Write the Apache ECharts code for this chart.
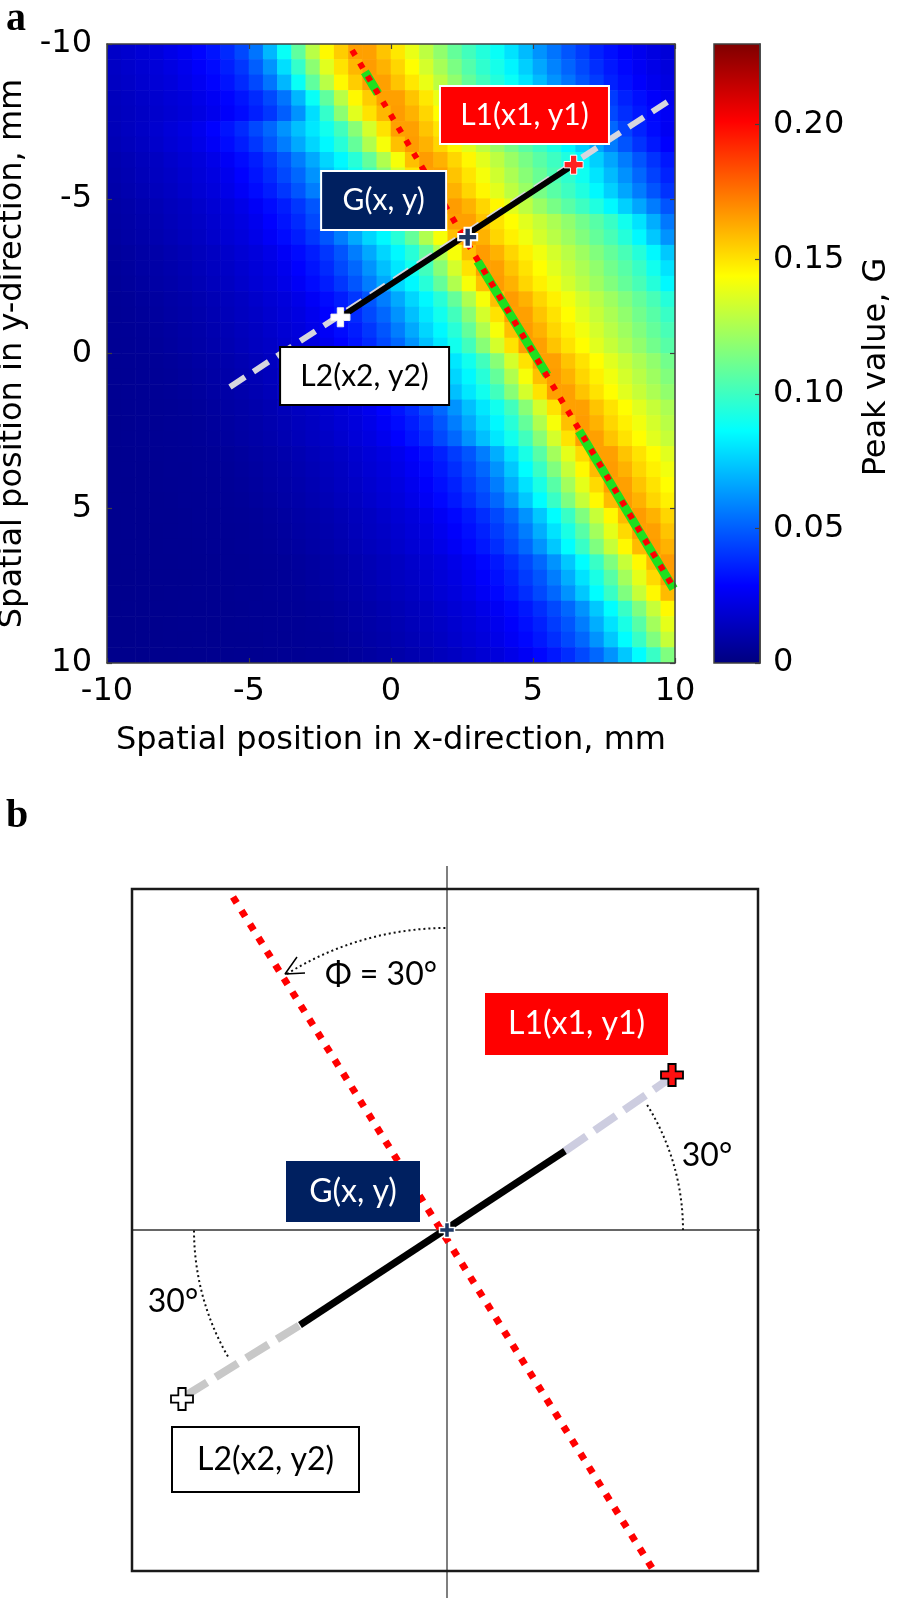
<!DOCTYPE html>
<html>
<head>
<meta charset="utf-8">
<title>Peak value map</title>
<script src="https://cdn.jsdelivr.net/npm/echarts@6.0.0/dist/echarts.min.js"></script>
<style>
  html, body { margin: 0; padding: 0; background: #fff; }
  #chart { width: 898px; height: 1602px; }
</style>
</head>
<body>
<div id="chart"></div>
<script>
// ---- panel a: peak value G, 0.5 mm cells (centres), rows top (y=-9.75) to bottom ----
const xCenters = [-9.75,-9.25,-8.75,-8.25,-7.75,-7.25,-6.75,-6.25,-5.75,-5.25,-4.75,-4.25,-3.75,-3.25,-2.75,-2.25,-1.75,-1.25,-0.75,-0.25,
                  0.25,0.75,1.25,1.75,2.25,2.75,3.25,3.75,4.25,4.75,5.25,5.75,6.25,6.75,7.25,7.75,8.25,8.75,9.25,9.75];
const yCenters = [-9.75,-9.25,-8.75,-8.25,-7.75,-7.25,-6.75,-6.25,-5.75,-5.25,-4.75,-4.25,-3.75,-3.25,-2.75,-2.25,-1.75,-1.25,-0.75,-0.25,
                  0.25,0.75,1.25,1.75,2.25,2.75,3.25,3.75,4.25,4.75,5.25,5.75,6.25,6.75,7.25,7.75,8.25,8.75,9.25,9.75];
const peakRows = [
  [.0165,.018,.0195,.021,.0235,.026,.0295,.033,.038,.045,.055,.07,.088,.108,.128,.145,.155,.165,.165,.157,.149,.139,.129,.119,.109,.101,.094,.088,.08,.071,.062,.055,.048,.042,.036,.032,.028,.025,.022,.02],
  [.0157,.0172,.0187,.0202,.0222,.0248,.0278,.031,.0355,.041,.05,.062,.079,.098,.118,.137,.15,.16,.166,.161,.153,.144,.134,.124,.114,.105,.097,.091,.084,.0755,.0665,.0585,.0515,.045,.039,.034,.03,.0265,.0235,.021],
  [.015,.0165,.018,.0195,.021,.0235,.026,.0295,.033,.038,.045,.055,.07,.088,.108,.128,.145,.155,.165,.165,.157,.149,.139,.129,.119,.109,.101,.094,.088,.08,.071,.062,.055,.048,.042,.036,.032,.028,.025,.022],
  [.014,.015,.0165,.018,.0195,.021,.0235,.026,.0295,.033,.038,.045,.055,.07,.088,.108,.128,.145,.155,.165,.165,.157,.149,.139,.129,.119,.109,.101,.094,.088,.08,.071,.062,.055,.048,.042,.036,.032,.028,.025],
  [.0135,.0145,.0157,.0172,.0187,.0202,.0222,.0248,.0278,.031,.0355,.041,.05,.062,.079,.098,.118,.137,.15,.16,.166,.161,.153,.144,.134,.124,.114,.105,.097,.091,.084,.0755,.0665,.0585,.0515,.045,.039,.034,.03,.0265],
  [.013,.0145,.016,.018,.02,.022,.025,.029,.033,.038,.045,.052,.062,.072,.081,.09,.101,.117,.134,.15,.165,.165,.157,.1495,.1415,.133,.125,.117,.11,.103,.097,.0895,.0805,.071,.0615,.052,.0435,.0365,.031,.026],
  [.0122,.0137,.015,.017,.019,.021,.0235,.027,.031,.035,.041,.048,.057,.067,.077,.085,.095,.109,.126,.142,.158,.166,.161,.153,.1455,.1373,.129,.121,.1135,.1063,.10,.0933,.085,.0758,.0663,.0568,.0478,.04,.0338,.0285],
  [.0107,.0122,.0137,.015,.017,.019,.021,.0235,.027,.031,.035,.041,.048,.057,.067,.077,.085,.095,.109,.126,.142,.158,.166,.161,.153,.1455,.1373,.129,.121,.1135,.1063,.10,.0933,.085,.0758,.0663,.0568,.0478,.04,.0338],
  [.01,.0115,.013,.0145,.016,.018,.02,.022,.025,.029,.033,.038,.045,.052,.062,.072,.081,.09,.101,.117,.134,.15,.165,.165,.157,.1495,.1415,.133,.125,.117,.11,.103,.097,.0895,.0805,.071,.0615,.052,.0435,.0365],
  [.0095,.0107,.0122,.0137,.015,.017,.019,.021,.0235,.027,.031,.035,.041,.048,.057,.067,.077,.085,.095,.109,.126,.142,.158,.166,.161,.153,.1455,.1373,.129,.121,.1135,.1063,.10,.0933,.085,.0758,.0663,.0568,.0478,.04],
  [.0085,.0095,.0107,.0122,.0137,.015,.017,.019,.021,.0235,.027,.031,.035,.041,.048,.057,.067,.077,.085,.095,.109,.126,.142,.158,.166,.161,.153,.1455,.1373,.129,.121,.1135,.1063,.10,.0933,.085,.0758,.0663,.0568,.0478],
  [.008,.009,.01,.0115,.013,.0145,.016,.018,.02,.022,.025,.029,.033,.038,.045,.052,.062,.072,.081,.09,.101,.117,.134,.15,.165,.165,.157,.15,.144,.137,.131,.125,.119,.112,.106,.099,.09,.08,.068,.056],
  [.0075,.0085,.0095,.0107,.0122,.0137,.015,.017,.019,.021,.0235,.027,.031,.035,.041,.048,.057,.067,.077,.085,.095,.109,.126,.142,.158,.166,.161,.153,.147,.1405,.134,.128,.122,.1155,.109,.1025,.0945,.085,.074,.062],
  [.0065,.0075,.0085,.0095,.0107,.0122,.0137,.015,.017,.019,.021,.0235,.027,.031,.035,.041,.048,.057,.067,.077,.085,.095,.109,.126,.142,.158,.166,.161,.153,.147,.1405,.134,.128,.122,.1155,.109,.1025,.0945,.085,.074],
  [.006,.007,.008,.009,.01,.0115,.013,.0145,.016,.018,.02,.022,.025,.029,.033,.038,.045,.052,.062,.072,.081,.09,.101,.117,.134,.15,.165,.165,.157,.15,.144,.137,.131,.125,.119,.112,.106,.099,.09,.08],
  [.0057,.0065,.0075,.0085,.0095,.0107,.0122,.0137,.015,.017,.019,.021,.0235,.027,.031,.035,.041,.048,.057,.067,.077,.085,.095,.109,.126,.142,.158,.166,.161,.153,.147,.1405,.134,.128,.122,.1155,.109,.1025,.0945,.085],
  [.0052,.0057,.0065,.0075,.0085,.0095,.0107,.0122,.0137,.015,.017,.019,.021,.0235,.027,.031,.035,.041,.048,.057,.067,.077,.085,.095,.109,.126,.142,.158,.166,.161,.153,.147,.1405,.134,.128,.122,.1155,.109,.1025,.0945],
  [.005,.0055,.006,.007,.008,.009,.01,.0115,.013,.0145,.016,.018,.02,.022,.025,.029,.033,.038,.045,.052,.062,.072,.081,.09,.101,.117,.134,.15,.165,.165,.157,.15,.144,.137,.131,.125,.119,.112,.106,.099],
  [.0049,.0052,.0057,.0065,.0075,.0085,.0095,.0107,.0122,.0137,.015,.017,.019,.021,.0235,.027,.031,.035,.041,.048,.057,.067,.077,.085,.095,.109,.126,.142,.158,.166,.161,.153,.147,.1405,.134,.128,.122,.1155,.109,.1025],
  [.0047,.005,.0055,.006,.007,.008,.009,.01,.0115,.013,.0145,.016,.018,.02,.022,.025,.029,.033,.038,.045,.052,.062,.072,.081,.09,.101,.117,.134,.15,.165,.165,.157,.15,.144,.137,.131,.125,.119,.112,.106],
  [.0045,.0047,.005,.0055,.006,.007,.008,.009,.01,.0115,.013,.0145,.016,.018,.02,.022,.025,.029,.033,.038,.045,.052,.062,.072,.081,.09,.101,.117,.134,.15,.165,.165,.157,.15,.144,.137,.131,.125,.119,.112],
  [.0044,.0046,.0049,.0052,.0057,.0065,.0075,.0085,.0095,.0107,.0122,.0137,.015,.017,.019,.021,.0235,.027,.031,.035,.041,.048,.057,.067,.077,.085,.095,.109,.126,.142,.158,.166,.161,.153,.147,.1405,.134,.128,.122,.1155],
  [.0042,.0045,.0047,.005,.0055,.006,.007,.008,.009,.01,.0115,.013,.0145,.016,.018,.02,.022,.025,.029,.033,.038,.045,.052,.062,.072,.081,.09,.101,.117,.134,.15,.165,.165,.157,.15,.144,.137,.131,.125,.119],
  [.004,.0042,.0045,.0047,.005,.0055,.006,.007,.008,.009,.01,.0115,.013,.0145,.016,.018,.02,.022,.025,.029,.033,.038,.045,.052,.062,.072,.081,.09,.101,.117,.134,.15,.165,.165,.157,.15,.144,.137,.131,.125],
  [.0039,.0041,.0044,.0046,.0049,.0052,.0057,.0065,.0075,.0085,.0095,.0107,.0122,.0137,.015,.017,.019,.021,.0235,.027,.031,.035,.041,.048,.057,.067,.077,.085,.095,.109,.126,.142,.158,.166,.161,.153,.147,.1405,.134,.128],
  [.0038,.004,.0042,.0045,.0047,.005,.0055,.006,.007,.008,.009,.01,.0115,.013,.0145,.016,.018,.02,.022,.025,.029,.033,.038,.045,.052,.062,.072,.081,.09,.101,.117,.134,.15,.165,.165,.157,.15,.144,.137,.131],
  [.0037,.0038,.004,.0042,.0045,.0047,.005,.0055,.006,.007,.008,.009,.01,.0115,.013,.0145,.016,.018,.02,.022,.025,.028,.032,.036,.042,.048,.057,.068,.08,.092,.106,.123,.138,.152,.165,.165,.157,.15,.144,.137],
  [.0036,.0038,.0039,.0041,.0044,.0046,.0049,.0052,.0057,.0065,.0075,.0085,.0095,.0107,.0122,.0137,.015,.017,.019,.021,.0235,.0265,.03,.034,.039,.045,.052,.062,.074,.086,.099,.115,.131,.145,.159,.166,.161,.153,.147,.1405],
  [.0036,.0037,.0038,.004,.0042,.0045,.0047,.005,.0055,.006,.007,.008,.009,.01,.0115,.013,.0145,.016,.018,.02,.022,.025,.028,.032,.036,.042,.048,.057,.068,.08,.092,.106,.123,.138,.152,.165,.165,.157,.15,.144],
  [.0035,.0036,.0038,.0039,.0041,.0044,.0046,.0049,.0052,.0057,.0065,.0075,.0085,.0095,.0107,.0122,.0137,.015,.017,.019,.021,.0235,.0265,.03,.034,.039,.045,.052,.062,.074,.086,.099,.115,.131,.145,.159,.166,.161,.153,.147],
  [.0034,.0035,.0036,.0038,.0039,.0041,.0044,.0046,.0049,.0052,.0057,.0065,.0075,.0085,.0095,.0107,.0122,.0137,.015,.017,.019,.021,.0235,.0265,.03,.034,.039,.045,.052,.062,.074,.086,.099,.115,.131,.145,.159,.166,.161,.153],
  [.0034,.0035,.0036,.0037,.0038,.004,.0042,.0045,.0047,.005,.0055,.006,.007,.008,.009,.01,.0115,.013,.0145,.016,.018,.02,.022,.025,.028,.032,.036,.042,.048,.057,.068,.08,.092,.106,.123,.138,.152,.165,.165,.157],
  [.0033,.0034,.0035,.0036,.0038,.0039,.0041,.0044,.0046,.0049,.0052,.0057,.0065,.0075,.0085,.0095,.0107,.0122,.0137,.015,.017,.019,.021,.0235,.0265,.03,.034,.039,.045,.052,.062,.074,.086,.099,.115,.131,.145,.159,.166,.161],
  [.0032,.0033,.0034,.0035,.0036,.0038,.0039,.0041,.0044,.0046,.0049,.0052,.0057,.0065,.0075,.0085,.0095,.0107,.0122,.0137,.015,.017,.019,.021,.0235,.0265,.03,.034,.039,.045,.052,.062,.074,.086,.099,.115,.131,.145,.159,.166],
  [.0031,.0032,.0034,.0035,.0036,.0037,.0038,.004,.0042,.0045,.0047,.005,.0055,.006,.007,.008,.009,.01,.0115,.013,.0145,.016,.018,.02,.022,.025,.028,.032,.036,.042,.048,.057,.068,.08,.092,.106,.123,.138,.152,.165],
  [.0031,.0032,.0033,.0034,.0035,.0036,.0038,.0039,.0041,.0044,.0046,.0049,.0052,.0057,.0065,.0075,.0085,.0095,.0107,.0122,.0137,.015,.017,.019,.021,.0235,.0265,.03,.034,.039,.045,.052,.062,.074,.086,.099,.115,.131,.145,.159],
  [.003,.0031,.0032,.0033,.0034,.0035,.0036,.0038,.0039,.0041,.0044,.0046,.0049,.0052,.0057,.0065,.0075,.0085,.0095,.0107,.0122,.0137,.015,.017,.019,.021,.0235,.0265,.03,.034,.039,.045,.052,.062,.074,.086,.099,.115,.131,.145],
  [.003,.003,.0031,.0032,.0034,.0035,.0036,.0037,.0038,.004,.0042,.0045,.0047,.005,.0055,.006,.007,.008,.009,.01,.0115,.013,.0145,.016,.018,.02,.022,.025,.028,.032,.036,.042,.048,.057,.068,.08,.092,.106,.123,.138],
  [.003,.003,.0031,.0032,.0033,.0034,.0035,.0036,.0038,.0039,.0041,.0044,.0046,.0049,.0052,.0057,.0065,.0075,.0085,.0095,.0107,.0122,.0137,.015,.017,.019,.021,.0235,.0265,.03,.034,.039,.045,.052,.062,.074,.086,.099,.115,.131],
  [.003,.003,.003,.0031,.0032,.0033,.0034,.0035,.0036,.0038,.0039,.0041,.0044,.0046,.0049,.0052,.0057,.0065,.0075,.0085,.0095,.0107,.0122,.0137,.015,.017,.019,.021,.0235,.0265,.03,.034,.039,.045,.052,.062,.074,.086,.099,.115]
];
const cellHalf = 0.25;
const cbMax = 0.23;

// overlay lines / points, in mm
const ridgeLine = [[-1.37, -9.8], [10, 7.64]];
const greenSegs = [[[-0.92, -9.1], [-0.46, -8.4]], [[3.05, -2.98], [5.5, 0.7]], [[6.62, 2.5], [9.95, 7.6]]];
const chordLine = [[-5.67, 1.08], [10, -8.29]];
const l2l1Line = [[-1.78, -1.17], [6.43, -6.1]];
const ptL1 = [6.43, -6.1], ptG = [2.7, -3.76], ptL2 = [-1.78, -1.17];
const tagPosA = [[4.70, -7.71], [-0.26, -4.94], [-0.93, 0.73]];

// ---- panel b: schematic, units = px relative to G, y up ----
const bRedLine = [[-214, 333], [205, -338]];
const bBlack = [[-147, -95], [118, 79]];
const bGrayLow = [[-262, -166], [-147, -95]];
const bGrayUp = [[118, 79], [222, 151]];
const bAxisV = [[0, 364], [0, -368]];
const bAxisH = [[-341, 0], [341, 0]];
const bArcs = [[302, -122, -90], [236, -32, 0], [253, 150, 180]]; // radius, start, end (deg)
const bArrow = [[-150, 273], [-162, 256], [-142, 257]];
const bL1 = [225, 155], bL2 = [-265, -169], bG = [0, 0];
const tagPosB = [[129.5, 206], [-94, 38.5], [-181.5, -229.5]];
const anglePosB = [[-66, 255], [260, 74], [-274, -72]];

const jet = ['#00007f', '#0000ff', '#007fff', '#00ffff', '#7fff7f', '#ffff00', '#ff7f00', '#ff0000', '#7f0000'];
const plusPath = 'path://M6 0H12V6H18V12H12V18H6V12H0V6H6Z';
const axisCol = '#404040';
const txtFont = 'DejaVu Sans';

const cells = [];
peakRows.forEach((row, j) => row.forEach((v, i) => cells.push([xCenters[i], yCenters[j], v])));

function tag(pos, text, w, h, bg, border, fg, fs) {
  return {
    value: pos,
    label: {
      show: true, position: 'inside', formatter: text, opacity: 1,
      width: w, height: h, lineHeight: h, align: 'center', verticalAlign: 'middle',
      backgroundColor: bg, borderColor: border || 'transparent', borderWidth: border ? 2 : 0,
      color: fg, fontSize: fs, fontFamily: 'Lato', padding: 0
    }
  };
}

function seg(data, xi, color, width, type, z, extra) {
  return Object.assign({
    type: 'line', xAxisIndex: xi, yAxisIndex: xi === 0 ? 0 : 3, data: data,
    symbol: 'none', silent: true, animation: false, z: z,
    lineStyle: { color: color, width: width, type: type || 'solid', cap: 'butt', opacity: 1 }
  }, extra || {});
}

const frameAxis = {
  axisLine: { show: true, onZero: false, lineStyle: { color: axisCol, width: 1.5 } },
  axisTick: { show: true, inside: true, length: 5, lineStyle: { color: axisCol, width: 1.2 } },
  splitLine: { show: false },
  z: 10
};

const chart = echarts.init(document.getElementById('chart'));
const option = {
  backgroundColor: '#fff',
  animation: false,
  grid: [
    { left: 107, top: 44, width: 568, height: 619, containLabel: false, outerBoundsMode: 'none' },
    { left: 714, top: 44, width: 46, height: 619, containLabel: false, outerBoundsMode: 'none',
      show: true, borderColor: axisCol, borderWidth: 1.5, z: 5 },
    { left: 132, top: 889, width: 626, height: 682, containLabel: false, outerBoundsMode: 'none',
      show: true, borderColor: '#1a1a1a', borderWidth: 2.5, z: 5 }
  ],
  visualMap: {
    type: 'continuous', show: false, min: 0, max: cbMax, dimension: 2, seriesIndex: 0,
    inRange: { color: jet }
  },
  xAxis: [
    Object.assign({}, frameAxis, {
      gridIndex: 0, type: 'value', min: -10, max: 10, interval: 5, position: 'bottom',
      axisLabel: { color: '#000', fontSize: 32, fontFamily: txtFont, margin: 13 },
      name: 'Spatial position in x-direction, mm', nameLocation: 'middle', nameGap: 62,
      nameTextStyle: { color: '#000', fontSize: 32, fontFamily: txtFont }
    }),
    Object.assign({}, frameAxis, {
      gridIndex: 0, type: 'value', min: -10, max: 10, interval: 5, position: 'top',
      axisLabel: { show: false }
    }),
    { gridIndex: 1, type: 'category', data: ['G'], show: false },
    { gridIndex: 2, type: 'value', min: -315, max: 311, show: false }
  ],
  yAxis: [
    Object.assign({}, frameAxis, {
      gridIndex: 0, type: 'value', inverse: true, min: -10, max: 10, interval: 5, position: 'left',
      axisLabel: { color: '#000', fontSize: 32, fontFamily: txtFont, margin: 15 },
      name: 'Spatial position in y-direction, mm', nameLocation: 'middle', nameGap: 66, nameRotate: 90,
      nameTextStyle: { color: '#000', fontSize: 32, fontFamily: txtFont }
    }),
    Object.assign({}, frameAxis, {
      gridIndex: 0, type: 'value', inverse: true, min: -10, max: 10, interval: 5, position: 'right',
      axisLabel: { show: false }
    }),
    Object.assign({}, frameAxis, {
      gridIndex: 1, type: 'value', min: 0, max: cbMax, interval: 0.05, position: 'right',
      axisLabel: {
        color: '#000', fontSize: 32, fontFamily: txtFont, margin: 13, showMaxLabel: false,
        formatter: v => (v === 0 ? '0' : v.toFixed(2))
      }
    }),
    { gridIndex: 2, type: 'value', min: -341, max: 341, show: false }
  ],
  graphic: [
    { type: 'text', left: 6, top: 0, style: { text: 'a', font: 'bold 40px "Liberation Serif"', fill: '#000' } },
    { type: 'text', left: 6, top: 797, style: { text: 'b', font: 'bold 40px "Liberation Serif"', fill: '#000' } },
    { type: 'text', x: 877, y: 367, rotation: Math.PI / 2,
      style: { text: 'Peak value, G', font: '32px "DejaVu Sans"', fill: '#000', align: 'center', verticalAlign: 'middle' } }
  ],
  series: [
    // 0: the heat map
    {
      type: 'custom', xAxisIndex: 0, yAxisIndex: 0, data: cells, encode: { x: 0, y: 1 },
      clip: true, silent: true, z: 1,
      renderItem: function (params, api) {
        const p0 = api.coord([api.value(0) - cellHalf, api.value(1) - cellHalf]);
        const p1 = api.coord([api.value(0) + cellHalf, api.value(1) + cellHalf]);
        return {
          type: 'rect',
          shape: {
            x: Math.min(p0[0], p1[0]) - 0.3, y: Math.min(p0[1], p1[1]) - 0.3,
            width: Math.abs(p1[0] - p0[0]) + 0.6, height: Math.abs(p1[1] - p0[1]) + 0.6
          },
          style: { fill: api.visual('color') }
        };
      }
    },
    // colour bar
    {
      type: 'bar', xAxisIndex: 2, yAxisIndex: 2, data: [cbMax], barWidth: '100%', silent: true, z: 1,
      itemStyle: {
        opacity: 1,
        color: { type: 'linear', x: 0, y: 1, x2: 0, y2: 0,
          colorStops: jet.map((c, i) => ({ offset: i / (jet.length - 1), color: c })) }
      }
    },
    // panel a overlays
    {
      type: 'lines', coordinateSystem: 'cartesian2d', xAxisIndex: 0, yAxisIndex: 0, silent: true, z: 3,
      data: greenSegs.map(s => ({ coords: s })),
      lineStyle: { color: '#1ee01e', width: 9, opacity: 1, curveness: 0 }
    },
    seg(ridgeLine, 0, '#ff0000', 6, [6, 9], 4),
    seg(chordLine, 0, '#d6d6de', 6, [18, 10], 5),
    seg(l2l1Line, 0, '#000000', 6, 'solid', 6),
    {
      type: 'scatter', xAxisIndex: 0, yAxisIndex: 0, symbol: plusPath, symbolSize: 19, silent: true, z: 7,
      data: [
        { value: ptL1, itemStyle: { color: '#ff2020', borderColor: '#ffffff', borderWidth: 1, opacity: 1 } },
        { value: ptG, itemStyle: { color: '#1f3864', borderColor: '#ffffff', borderWidth: 2, opacity: 1 } },
        { value: ptL2, itemStyle: { color: '#ffffff', borderColor: '#eeeeee', borderWidth: 1, opacity: 1 } }
      ]
    },
    {
      type: 'scatter', xAxisIndex: 0, yAxisIndex: 0, symbol: 'rect', symbolSize: 1, silent: true, z: 8,
      itemStyle: { color: 'transparent', opacity: 1 },
      data: [
        tag(tagPosA[0], 'L1(x1, y1)', 167, 56, '#ff0000', '#ffffff', '#ffffff', 30),
        tag(tagPosA[1], 'G(x, y)', 123, 57, '#002060', '#ffffff', '#ffffff', 30),
        tag(tagPosA[2], 'L2(x2, y2)', 167, 56, '#ffffff', '#000000', '#000000', 30)
      ]
    },
    // panel b
    seg(bAxisV, 3, '#555555', 1.5, 'solid', 2, { clip: false }),
    seg(bAxisH, 3, '#333333', 1.5, 'solid', 2, { clip: false }),
    seg(bRedLine, 3, '#ff0000', 7, [7, 9], 3),
    seg(bGrayLow, 3, '#c8c8c8', 8, [26, 10], 4),
    seg(bGrayUp, 3, '#cdcde0', 8, [26, 10], 4),
    seg(bBlack, 3, '#000000', 7, 'solid', 5),
    seg(bArrow, 3, '#000000', 1.5, 'solid', 5),
    {
      type: 'custom', xAxisIndex: 3, yAxisIndex: 3, silent: true, z: 5, clip: false,
      data: bArcs.map(a => [0, 0, a[0], a[1], a[2]]), encode: { x: 0, y: 1 },
      renderItem: function (params, api) {
        const c = api.coord([api.value(0), api.value(1)]);
        const r = api.size([api.value(2), 0])[0];
        return {
          type: 'arc',
          shape: { cx: c[0], cy: c[1], r: r,
            startAngle: api.value(3) * Math.PI / 180, endAngle: api.value(4) * Math.PI / 180, clockwise: true },
          style: { stroke: '#111', fill: 'none', lineWidth: 2, lineDash: [2, 3] }
        };
      }
    },
    {
      type: 'scatter', xAxisIndex: 3, yAxisIndex: 3, symbol: plusPath, silent: true, z: 7,
      data: [
        { value: bL1, symbolSize: 22, itemStyle: { color: '#ff1010', borderColor: '#000', borderWidth: 1.8, opacity: 1 } },
        { value: bL2, symbolSize: 22, itemStyle: { color: '#ffffff', borderColor: '#000', borderWidth: 1.8, opacity: 1 } },
        { value: bG, symbolSize: 15, itemStyle: { color: '#1f3864', borderColor: '#ffffff', borderWidth: 1.5, opacity: 1 } }
      ]
    },
    {
      type: 'scatter', xAxisIndex: 3, yAxisIndex: 3, symbol: 'rect', symbolSize: 1, silent: true, z: 8,
      itemStyle: { color: 'transparent', opacity: 1 },
      data: [
        tag(tagPosB[0], 'L1(x1, y1)', 183, 62, '#ff0000', null, '#ffffff', 32),
        tag(tagPosB[1], 'G(x, y)', 134, 61, '#002060', null, '#ffffff', 32),
        tag(tagPosB[2], 'L2(x2, y2)', 185, 63, '#ffffff', '#000000', '#000000', 32),
        tag(anglePosB[0], 'Φ = 30°', 140, 40, 'transparent', null, '#000000', 32),
        tag(anglePosB[1], '30°', 60, 40, 'transparent', null, '#000000', 32),
        tag(anglePosB[2], '30°', 60, 40, 'transparent', null, '#000000', 32)
      ]
    }
  ]
};
chart.setOption(option);
window.addEventListener('resize', () => chart.resize());
</script>
</body>
</html>
